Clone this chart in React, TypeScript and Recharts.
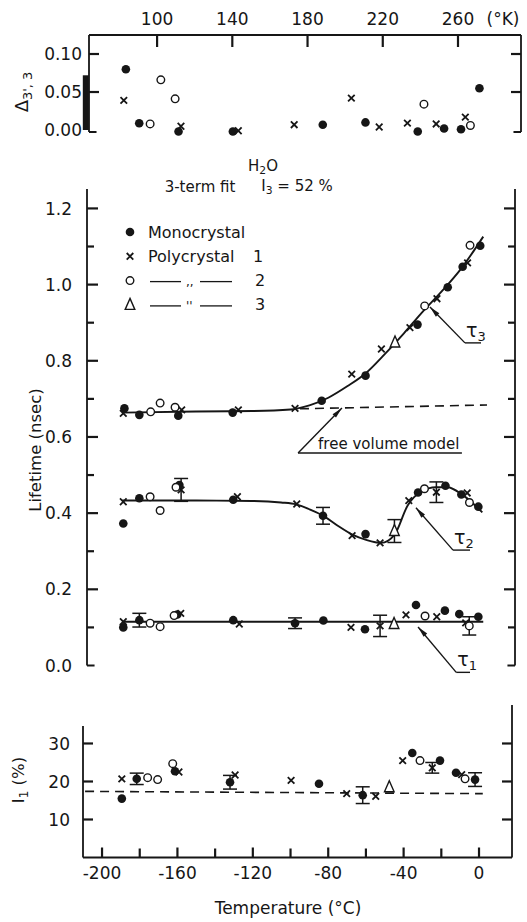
import React from "react";
import {
  ComposedChart,
  Scatter,
  Line,
  XAxis,
  YAxis,
  ErrorBar,
  ReferenceLine,
  ReferenceDot,
  Legend,
} from "recharts";

const FONT = '"DejaVu Sans", Verdana, sans-serif';
const INK = "#161616";

// ---------- top panel: Δ3',3 against absolute temperature (K)
const kelvinTicks = [100, 140, 180, 220, 260];
const deltaTicks = [0, 0.05, 0.1];
const deltaMono = [
  [83.4, 0.08], [90.5, 0.009], [111.4, -0.002], [140.3, -0.002], [188.1, 0.007],
  [210.8, 0.01], [238.6, -0.002], [252.6, 0.002], [261.6, 0.001], [271.4, 0.055],
];
const deltaPoly1 = [
  [82.3, 0.039], [112.7, 0.005], [143.2, -0.001], [172.9, 0.007], [203.3, 0.042],
  [218.1, 0.004], [233.1, 0.009], [248.4, 0.008], [263.9, 0.017],
];
const deltaPoly2 = [[96.3, 0.008], [102, 0.066], [109.6, 0.041], [241.9, 0.034], [266.6, 0.006]];

// ---------- middle panel: lifetimes (nsec) against °C
const lifetimeTicks = [0, 0.1, 0.2, 0.3, 0.4, 0.5, 0.6, 0.7, 0.8, 0.9, 1.0, 1.1, 1.2];

const tau3Mono = [
  [-187.9, 0.675], [-180, 0.658], [-159.4, 0.656], [-130.6, 0.664], [-83.5, 0.695],
  [-60.3, 0.761], [-32.8, 0.895], [-16.8, 0.993], [-8.9, 1.047], [0.4, 1.102],
];
const tau3Poly1 = [
  [-188.5, 0.662], [-157.6, 0.671], [-127.6, 0.671], [-97.6, 0.675], [-67.6, 0.765],
  [-51.9, 0.831], [-36.8, 0.887], [-22.5, 0.963], [-6.3, 1.057],
];
const tau3Poly2 = [[-174, 0.666], [-169, 0.689], [-161.1, 0.678], [-29, 0.944], [-5, 1.103]];
const tau3Poly3 = [[-44.7, 0.848]];
const tau3Fit = [
  [-189, 0.664], [-150, 0.667], [-120, 0.668], [-100, 0.672], [-90, 0.683], [-80, 0.703],
  [-70, 0.733], [-60, 0.768], [-50, 0.818], [-40, 0.872], [-30, 0.929], [-20, 0.982],
  [-10, 1.04], [2, 1.126],
];
const freeVolume = [[-95, 0.674], [4, 0.684]];

const tau2Mono = [
  [-188.5, 0.373], [-180, 0.439], [-158.8, 0.474], [-130.3, 0.435], [-82.8, 0.393],
  [-60.3, 0.345], [-32.5, 0.454], [-18, 0.472], [-9.6, 0.449], [-0.6, 0.417],
];
const tau2Poly1 = [
  [-188.5, 0.43], [-157.9, 0.461], [-128.1, 0.443], [-96.7, 0.424], [-67.4, 0.341],
  [-52.6, 0.322], [-37.4, 0.433], [-22.8, 0.455], [-6.5, 0.453],
];
const tau2Poly2 = [[-174.3, 0.443], [-169, 0.407], [-160.6, 0.468], [-29.1, 0.464], [-5.3, 0.428]];
const tau2Poly3 = [[-45, 0.353]];
const tau2Err = [[-157.9, 0.461, 0.03], [-82.8, 0.393, 0.022], [-45, 0.353, 0.03], [-22.8, 0.455, 0.027]];
const tau2Fit = [
  [-189, 0.433], [-150, 0.433], [-120, 0.432], [-105, 0.428], [-97, 0.423], [-90, 0.41],
  [-82, 0.391], [-75, 0.367], [-67, 0.343], [-60, 0.33], [-52, 0.322], [-45, 0.343],
  [-38, 0.42], [-31, 0.456], [-23, 0.468], [-17, 0.468], [-9, 0.448], [1.5, 0.402],
];

const tau1Mono = [
  [-188.5, 0.1], [-180, 0.119], [-159.9, 0.134], [-130.3, 0.119], [-97.6, 0.111],
  [-82.6, 0.118], [-60.6, 0.095], [-33.6, 0.159], [-18.3, 0.144], [-10.7, 0.135], [-0.6, 0.128],
];
const tau1Poly1 = [
  [-188.5, 0.115], [-158.1, 0.137], [-127.1, 0.109], [-68, 0.1], [-52.6, 0.104],
  [-38.9, 0.133], [-22.6, 0.128], [-7.3, 0.112],
];
const tau1Poly2 = [[-174.3, 0.111], [-169, 0.102], [-161.6, 0.131], [-28.8, 0.13], [-5.4, 0.104]];
const tau1Poly3 = [[-45.2, 0.109]];
const tau1Err = [[-180, 0.119, 0.018], [-97.6, 0.111, 0.014], [-52.6, 0.104, 0.028], [-5.4, 0.104, 0.024]];
const tau1Fit = [[-189, 0.115], [2, 0.115]];

// label leaders: arrow tip, elbow, end of underline
const leaders = [
  { name: "τ", sub: "3", tip: [-26.2, 0.941], elbow: [-7.7, 0.847], end: [0.8, 0.847], angle: 46, dx: 1 },
  { name: "τ", sub: "2", tip: [-33.6, 0.414], elbow: [-14, 0.303], end: [-5, 0.303], angle: 49, dx: 1 },
  { name: "τ", sub: "1", tip: [-32.5, 0.101], elbow: [-12.3, -0.018], end: [-5, -0.018], angle: 48, dx: 1 },
  { name: "free volume model", sub: "", tip: [-72.8, 0.676], elbow: [-96, 0.558], end: [-9.3, 0.558], angle: 134, dx: 20 },
];

// ---------- bottom panel: I1 (%) against °C
const celsiusTicks = [-200, -180, -160, -140, -120, -100, -80, -60, -40, -20, 0];
const intensityTicks = [10, 20, 30];
const i1Mono = [
  [-189.5, 15.5], [-181.6, 20.7], [-161.3, 22.7], [-132.1, 19.8], [-84.9, 19.4],
  [-61.7, 16.4], [-35.4, 27.5], [-20.7, 25.5], [-12.2, 22.3], [-2.1, 20.5],
];
const i1Poly1 = [
  [-189.5, 20.7], [-159.2, 22.5], [-129.4, 21.7], [-99.7, 20.3], [-70.2, 16.8],
  [-54.8, 16.1], [-40.5, 25.5], [-24.8, 23.6], [-9.2, 21.8],
];
const i1Poly2 = [[-175.8, 21.0], [-170.5, 20.5], [-162.5, 24.7], [-31.3, 25.5], [-7.4, 20.7]];
const i1Poly3 = [[-47.6, 18.5]];
const i1Err = [[-181.6, 20.7, 1.5], [-132.1, 19.8, 1.8], [-61.7, 16.4, 2.2], [-24.8, 23.6, 1.4], [-2.1, 20.5, 1.8]];
const i1Model = [[-209, 17.4], [2, 16.8]];

const toPts = (rows: number[][]) => rows.map(([t, v, err]) => ({ t, v, err }));

// ---------- marker shapes
const dotFilled = (p: any) => <circle cx={p.cx} cy={p.cy} r={4.3} fill={INK} />;
const dotOpen = (p: any) => (
  <circle cx={p.cx} cy={p.cy} r={3.8} fill="#fff" stroke={INK} strokeWidth={1.4} />
);
const cross = (p: any) => {
  const s = 3.3;
  return (
    <path
      d={`M${p.cx - s},${p.cy - s}L${p.cx + s},${p.cy + s}M${p.cx + s},${p.cy - s}L${p.cx - s},${p.cy + s}`}
      stroke={INK}
      strokeWidth={1.8}
      fill="none"
    />
  );
};
const triangle = (p: any) => (
  <path
    d={`M${p.cx},${p.cy - 6.5}L${p.cx + 4.8},${p.cy + 4.5}L${p.cx - 4.8},${p.cy + 4.5}Z`}
    fill="#fff"
    stroke={INK}
    strokeWidth={1.4}
  />
);
const noMark = () => <g />;

const deltaSeries = [
  { rows: deltaMono, shape: dotFilled },
  { rows: deltaPoly1, shape: cross },
  { rows: deltaPoly2, shape: dotOpen },
];
const lifetimeSeries = [
  { rows: tau3Mono, shape: dotFilled },
  { rows: tau3Poly1, shape: cross },
  { rows: tau3Poly2, shape: dotOpen },
  { rows: tau3Poly3, shape: triangle },
  { rows: tau2Mono, shape: dotFilled },
  { rows: tau2Poly1, shape: cross },
  { rows: tau2Poly2, shape: dotOpen },
  { rows: tau2Poly3, shape: triangle },
  { rows: tau1Mono, shape: dotFilled },
  { rows: tau1Poly1, shape: cross },
  { rows: tau1Poly2, shape: dotOpen },
  { rows: tau1Poly3, shape: triangle },
];
const intensitySeries = [
  { rows: i1Mono, shape: dotFilled },
  { rows: i1Poly1, shape: cross },
  { rows: i1Poly2, shape: dotOpen },
  { rows: i1Poly3, shape: triangle },
];

// ---------- axes: the axis draws the frame line and the labels,
// the inward tick marks are short reference segments
const axisStyle = { stroke: INK, strokeWidth: 1.8 };
const tickText = { fontSize: 17, fontFamily: FONT, fill: INK };

const leftLabel = (fmt: (v: number) => string, gap: number) => (p: any) => {
  const label = fmt(p.payload.value);
  return label ? (
    <text x={p.x - gap} y={p.y} dy={6.1} textAnchor="end" {...tickText}>
      {label}
    </text>
  ) : (
    <g />
  );
};
const bottomLabel = (fmt: (v: number) => string) => (p: any) => {
  const label = fmt(p.payload.value);
  return label ? (
    <text x={p.x} y={p.y + 21} textAnchor="middle" {...tickText}>
      {label}
    </text>
  ) : (
    <g />
  );
};
const topLabel = (p: any) => (
  <text x={p.x} y={p.y - 10} textAnchor="middle" {...tickText}>
    {String(p.payload.value)}
  </text>
);
const blank = () => <g />;

const frame = {
  type: "number" as const,
  interval: 0 as const,
  tickSize: 0,
  tickMargin: 0,
  tickLine: false,
  axisLine: axisStyle,
};

type Box = { x: number[]; y: number[]; w: number; h: number };

// inward tick marks on one side of a frame; len in pixels
function tickMarks(box: Box, side: "left" | "right" | "top" | "bottom", values: number[], len: (v: number) => number, key: string) {
  const ux = (box.x[1] - box.x[0]) / box.w;
  const uy = (box.y[1] - box.y[0]) / box.h;
  return values.map((v, i) => {
    const l = len(v);
    let a: number[];
    let b: number[];
    if (side === "left") { a = [box.x[0], v]; b = [box.x[0] + l * ux, v]; }
    else if (side === "right") { a = [box.x[1], v]; b = [box.x[1] - l * ux, v]; }
    else if (side === "bottom") { a = [v, box.y[0]]; b = [v, box.y[0] + l * uy]; }
    else { a = [v, box.y[1]]; b = [v, box.y[1] - l * uy]; }
    return seg(a, b, `${key}-${i}`, 2.2);
  });
}

function LegendBox() {
  const rows = [
    { mark: dotFilled, text: "Monocrystal", num: "" },
    { mark: cross, text: "Polycrystal", num: "1" },
    { mark: dotOpen, text: ",,", num: "2" },
    { mark: triangle, text: "''", num: "3" },
  ];
  return (
    <svg width={150} height={100}>
      {rows.map((r, i) => {
        const cy = 10 + i * 24.3;
        return (
          <g key={i}>
            {r.mark({ cx: 10, cy })}
            {i < 2 ? (
              <text x={28} y={cy + 5.5} fontSize={16} fontFamily={FONT} fill={INK}>
                {r.text}
              </text>
            ) : (
              <g>
                <line x1={30} x2={61} y1={cy + 1} y2={cy + 1} stroke={INK} strokeWidth={1.3} />
                <text x={66} y={cy + 5} fontSize={12} fontFamily={FONT} fill={INK}>
                  {r.text}
                </text>
                <line x1={80} x2={112} y1={cy + 1} y2={cy + 1} stroke={INK} strokeWidth={1.3} />
              </g>
            )}
            <text x={i < 2 ? 133 : 135} y={cy + 5.5} fontSize={16} fontFamily={FONT} fill={INK}>
              {r.num}
            </text>
          </g>
        );
      })}
    </svg>
  );
}

const scatterList = (series: { rows: number[][]; shape: any }[], prefix: string) =>
  series.map((s, i) => (
    <Scatter
      key={`${prefix}-${i}`}
      data={toPts(s.rows)}
      dataKey="v"
      shape={s.shape}
      isAnimationActive={false}
    />
  ));

const errorList = (rows: number[][], key: string) => (
  <Scatter key={key} data={toPts(rows)} dataKey="v" shape={noMark} isAnimationActive={false}>
    <ErrorBar dataKey="err" direction="y" width={7} stroke={INK} strokeWidth={1.5} />
  </Scatter>
);

const fitLine = (rows: number[][], key: string, dashed = false) => (
  <Line
    key={key}
    data={toPts(rows)}
    dataKey="v"
    type="monotone"
    dot={false}
    activeDot={false}
    stroke={INK}
    strokeWidth={dashed ? 1.6 : 1.9}
    strokeDasharray={dashed ? "9 6" : undefined}
    isAnimationActive={false}
  />
);

function seg(a: number[], b: number[], key: string, w = 1.4) {
  return (
    <ReferenceLine
      key={key}
      segment={[{ x: a[0], y: a[1] }, { x: b[0], y: b[1] }]}
      stroke={INK}
      strokeWidth={w}
      ifOverflow="visible"
    />
  );
}

function Txt({ x, y, size = 16, rotate = false, children }: any) {
  return (
    <div
      style={{
        position: "absolute",
        left: x,
        top: y,
        transform: `translate(-50%, -50%)${rotate ? " rotate(-90deg)" : ""}`,
        whiteSpace: "nowrap",
        fontSize: size,
        fontFamily: FONT,
        color: INK,
        lineHeight: 1,
      }}
    >
      {children}
    </div>
  );
}

const subStyle = { fontSize: "0.72em", verticalAlign: "-0.35em" };

export default function App() {
  const TOP: Box = { x: [63.8, 293.5], y: [-0.0026, 0.125], w: 432, h: 97 };
  const MID: Box = { x: [-207.7, 18.8], y: [0, 1.251], w: 428, h: 476.5 };
  const BOT: Box = { x: [-210.1, 17.5], y: [0, 34.6], w: 429, h: 131.5 };
  const even = (v: number) => (Math.round(v * 10) % 2 === 0 ? v.toFixed(1) : "");
  const midLen = (v: number) => (even(v) ? 11 : 7);

  return (
    <div style={{ position: "absolute", left: 0, top: 0, width: 527, height: 922, background: "#fff" }}>
      {/* top panel */}
      <div style={{ position: "absolute", left: 0, top: 0 }}>
        <ComposedChart width={527} height={150} margin={{ top: 34, right: 5, bottom: 18, left: 88 }}>
          <XAxis
            {...frame}
            dataKey="t"
            orientation="top"
            domain={TOP.x}
            ticks={kelvinTicks}
            height={1}
            tick={topLabel}
          />
          <YAxis
            {...frame}
            domain={TOP.y}
            ticks={deltaTicks}
            width={1}
            tick={leftLabel((v) => v.toFixed(2), 7)}
          />
          <YAxis
            {...frame}
            yAxisId="r"
            orientation="right"
            domain={TOP.y}
            allowDataOverflow
            ticks={deltaTicks}
            width={1}
            tick={blank}
          />
          {tickMarks(TOP, "top", kelvinTicks, () => 12, "tt")}
          {tickMarks(TOP, "left", deltaTicks.slice(1), () => 10, "tl")}
          {tickMarks(TOP, "right", deltaTicks.slice(1), () => 10, "tr")}
          {seg([TOP.x[0], TOP.y[0]], [TOP.x[0] + 4, TOP.y[0]], "stub-l", 2)}
          {seg([TOP.x[1] - 4, TOP.y[0]], [TOP.x[1], TOP.y[0]], "stub-r", 2)}
          {seg([TOP.x[0] - 1.7, 0], [TOP.x[0] - 1.7, 0.072], "bar", 6)}
          {scatterList(deltaSeries, "d")}
        </ComposedChart>
      </div>

      {/* middle panel */}
      <div style={{ position: "absolute", left: 0, top: 150 }}>
        <ComposedChart width={527} height={535} margin={{ top: 39, right: 11, bottom: 19.5, left: 86 }}>
          <XAxis type="number" dataKey="t" domain={MID.x} hide />
          <YAxis {...frame} domain={MID.y} ticks={lifetimeTicks} width={1} tick={leftLabel(even, 15)} />
          <YAxis
            {...frame}
            yAxisId="r"
            orientation="right"
            domain={MID.y}
            allowDataOverflow
            ticks={lifetimeTicks}
            width={1}
            tick={blank}
          />
          <Legend
            layout="vertical"
            align="center"
            verticalAlign="middle"
            content={() => <LegendBox />}
            wrapperStyle={{ left: 120, top: 72, width: 150 }}
          />
          {tickMarks(MID, "left", lifetimeTicks.slice(1), midLen, "ml")}
          {tickMarks(MID, "right", lifetimeTicks.slice(1), midLen, "mr")}
          {seg([MID.x[0], 0], [MID.x[0] + 4, 0], "stub-l", 2)}
          {seg([MID.x[1] - 4, 0], [MID.x[1], 0], "stub-r", 2)}
          {fitLine(tau3Fit, "f3")}
          {fitLine(freeVolume, "fv", true)}
          {fitLine(tau2Fit, "f2")}
          {fitLine(tau1Fit, "f1")}
          {scatterList(lifetimeSeries, "l")}
          {errorList(tau2Err, "e2")}
          {errorList(tau1Err, "e1")}
          {leaders.map((l, i) => seg(l.tip, l.elbow, `lead-${i}`))}
          {leaders.map((l, i) => seg(l.elbow, l.end, `under-${i}`))}
          {leaders.map((l, i) => (
            <ReferenceDot
              key={`arrow-${i}`}
              x={l.tip[0]}
              y={l.tip[1]}
              r={1}
              ifOverflow="visible"
              shape={(p: any) => (
                <path
                  d="M0,0L11,-2.4L11,2.4Z"
                  fill={INK}
                  transform={`translate(${p.cx},${p.cy}) rotate(${l.angle})`}
                />
              )}
            />
          ))}
          {leaders.map((l, i) => (
            <ReferenceDot
              key={`name-${i}`}
              x={l.elbow[0]}
              y={l.elbow[1]}
              r={1}
              ifOverflow="visible"
              shape={(p: any) =>
                l.sub ? (
                  <text x={p.cx + l.dx} y={p.cy - 6} fontSize={19} fontFamily={FONT} fill={INK}>
                    {l.name}
                    <tspan dy={4} fontSize={13}>
                      {l.sub}
                    </tspan>
                  </text>
                ) : (
                  <text x={p.cx + l.dx} y={p.cy - 4} fontSize={15} fontFamily={FONT} fill={INK}>
                    {l.name}
                  </text>
                )
              }
            />
          ))}
        </ComposedChart>
      </div>

      {/* bottom panel */}
      <div style={{ position: "absolute", left: 0, top: 685 }}>
        <ComposedChart width={527} height={237} margin={{ top: 41, right: 14, bottom: 63.5, left: 82 }}>
          <XAxis
            {...frame}
            dataKey="t"
            domain={BOT.x}
            ticks={celsiusTicks}
            height={1}
            tick={bottomLabel((v) => (v % 40 === 0 ? String(v) : ""))}
          />
          <YAxis {...frame} domain={BOT.y} ticks={intensityTicks} width={1} tick={leftLabel(String, 13)} />
          <YAxis
            {...frame}
            yAxisId="r"
            orientation="right"
            domain={BOT.y}
            allowDataOverflow
            ticks={intensityTicks}
            width={1}
            tick={blank}
          />
          {tickMarks(BOT, "bottom", celsiusTicks, (v) => (v % 40 === 0 ? 10 : 9), "bb")}
          {tickMarks(BOT, "left", intensityTicks, () => 10, "bl")}
          {tickMarks(BOT, "right", intensityTicks, () => 10, "br")}
          {seg([BOT.x[1], BOT.y[1]], [BOT.x[1], 40.1], "ext", 1.8)}
          {fitLine(i1Model, "m", true)}
          {scatterList(intensitySeries, "i")}
          {errorList(i1Err, "ei")}
        </ComposedChart>
      </div>

      {/* free text */}
      <Txt x={503} y={19} size={17}>(°K)</Txt>
      <Txt x={24} y={92} size={18} rotate>
        Δ<span style={subStyle}>3', 3</span>
      </Txt>
      <Txt x={263} y={168} size={15}>
        H<span style={subStyle}>2</span>O
      </Txt>
      <Txt x={200} y={187} size={15}>3-term fit</Txt>
      <Txt x={297} y={188} size={15}>
        I<span style={subStyle}>3</span> = 52 %
      </Txt>
      <Txt x={36} y={450} size={16.5} rotate>
        Lifetime (nsec)
      </Txt>
      <Txt x={21} y={780} size={16.5} rotate>
        I<span style={subStyle}>1</span> (%)
      </Txt>
      <Txt x={288} y={908} size={17}>
        Temperature (°C)
      </Txt>
    </div>
  );
}
